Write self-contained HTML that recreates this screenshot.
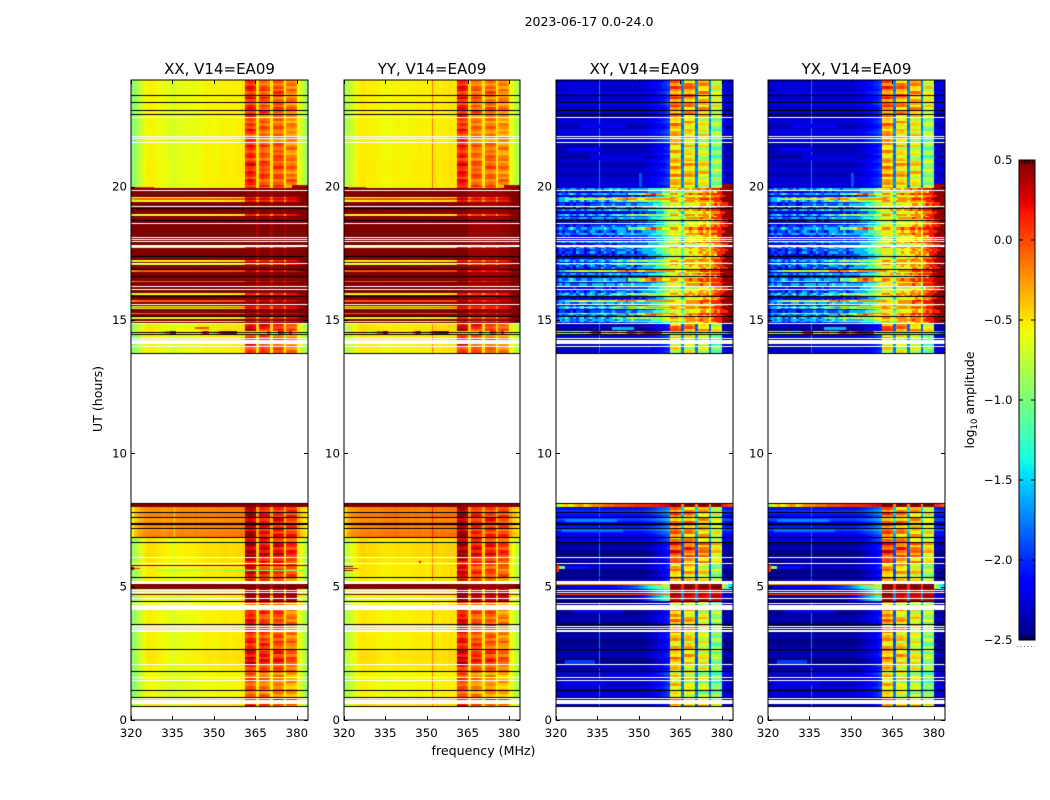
<!DOCTYPE html>
<html lang="en">
<head>
<meta charset="utf-8">
<title>2023-06-17 0.0-24.0</title>
<style>
html,body{margin:0;padding:0;background:#fff;}
#stage{position:relative;width:1050px;height:800px;overflow:hidden;background:#fff;font-family:"DejaVu Sans","Liberation Sans",sans-serif;}
canvas{position:absolute;display:block;}
svg{position:absolute;left:0;top:0;}
text{fill:#000;font-family:"DejaVu Sans","Liberation Sans",sans-serif;}
</style>
</head>
<body>
<div id="stage">
<canvas id="hm0" width="177" height="640" style="left:131px;top:80px"></canvas>
<canvas id="hm1" width="176" height="640" style="left:344px;top:80px"></canvas>
<canvas id="hm2" width="177" height="640" style="left:556px;top:80px"></canvas>
<canvas id="hm3" width="177" height="640" style="left:768px;top:80px"></canvas>
<canvas id="cb" width="16" height="480" style="left:1019px;top:160px"></canvas>
<svg id="ov" width="1050" height="800" viewBox="0 0 1050 800">
<text x="589" y="26" text-anchor="middle" font-size="12.5">2023-06-17 0.0-24.0</text>
<text x="483.5" y="755" text-anchor="middle" font-size="12.6">frequency (MHz)</text>
<text transform="translate(102,399) rotate(-90)" text-anchor="middle" font-size="12.6">UT (hours)</text>
<text transform="translate(974,400) rotate(-90)" text-anchor="middle" font-size="12.5">log<tspan font-size="8.5" dy="3">10</tspan><tspan dy="-3"> amplitude</tspan></text>
</svg>
</div>
<script>
const panelNames=['XX, V14=EA09','YY, V14=EA09','XY, V14=EA09','YX, V14=EA09'];
const xTicks=[320,335,350,365,380];
const yTicks=[0,5,10,15,20];
const cbTicks=[0.5,0,-0.5,-1,-1.5,-2,-2.5];
const cbTickLabels=['0.5','0.0','\u22120.5','\u22121.0','\u22121.5','\u22122.0','\u22122.5'];

/* log10 amplitude per 1 MHz channel (320..383 MHz) */
const coNormal=[-.98,-.88,-.78,-.7,-.62,-.56,-.54,-.55,-.56,-.57,
-.58,-.6,-.61,-.62,-.63,-.63,-.63,-.62,-.61,-.6,
-.6,-.61,-.6,-.59,-.58,-.57,-.56,-.55,-.55,-.56,
-.56,-.55,-.54,-.53,-.54,-.55,-.54,-.53,-.52,-.53,
-.52,.02,.06,.06,-.01,-.5,-.08,-.05,-.07,-.13,
-.52,-.11,-.08,-.08,-.15,-.52,-.24,-.22,-.22,-.28,
-.6,-.68,-.8,-.95];
const yyDelta=[.14,.1,.08,.06,.03,.03,.03,.03,.03,.04,
.05,.06,.06,.06,.06,.06,.06,.06,.06,.06,
.05,.05,.04,.04,.03,.03,.03,.03,.02,.02,
.02,.02,.02,.02,.02,.02,.02,.02,.02,.02,
.02,.04,.03,.02,.02,.02,-.06,-.06,-.06,-.06,
.02,-.08,-.08,-.06,-.06,.02,-.04,-.04,-.04,-.04,
.02,.02,.03,.06];
const coWarm=[-.6,-.42,-.34,-.3,-.26,-.24,-.22,-.22,-.22,-.22,
-.24,-.26,-.26,-.24,-.22,-.24,-.22,-.22,-.2,-.22,
-.22,-.22,-.22,-.2,-.22,-.2,-.2,-.2,-.22,-.2,
-.2,-.2,-.2,-.18,-.2,-.18,-.18,-.18,-.18,-.18,
-.17,.3,.34,.34,.27,-.3,.14,.16,.14,.1,
-.32,.07,.1,.1,.04,-.34,0,.02,.02,-.03,
-.32,-.42,-.48,-.58];
const coHot=[.5,.5,.5,.5,.5,.5,.5,.5,.5,.5,
.5,.5,.5,.5,.5,.5,.5,.5,.5,.5,
.5,.5,.5,.5,.5,.5,.5,.5,.5,.5,
.5,.5,.5,.5,.5,.5,.5,.5,.5,.5,
.5,.49,.49,.49,.49,.4,.49,.49,.49,.49,
.4,.49,.49,.49,.49,.4,.49,.49,.49,.49,
.5,.5,.5,.5];
const coYellow=[-.8,-.7,-.65,-.62,-.6,-.6,-.6,-.6,-.6,-.6,
-.6,-.6,-.6,-.6,-.6,-.6,-.6,-.6,-.6,-.6,
-.6,-.6,-.6,-.6,-.6,-.6,-.6,-.6,-.6,-.57,
-.57,-.55,-.55,-.55,-.53,-.53,-.51,-.51,-.49,-.47,
-.45,.12,.15,.15,.1,-.3,.1,.12,.12,.1,
-.3,.12,.15,.15,.12,-.3,.18,.2,.2,.2,
.35,.45,.5,.5];
const coOrange=[-.25,-.15,-.1,-.08,-.06,-.05,-.05,-.05,-.05,-.05,
-.05,-.05,-.05,-.05,-.05,-.05,-.05,-.05,-.05,-.05,
-.05,-.04,-.04,-.04,-.04,-.03,-.03,-.03,-.03,-.02,
-.02,-.02,-.02,-.02,-.02,0,0,0,0,0,
.02,.3,.32,.32,.3,.02,.25,.28,.28,.25,
.02,.25,.28,.28,.25,.05,.28,.3,.3,.3,
.4,.48,.5,.5];
const coMix=[-.75,-.6,-.55,-.55,-.53,-.53,-.5,-.45,-.55,-.55,
-.55,-.45,-.1,-.15,.4,.4,-.55,-.55,-.55,-.55,
-.55,-.55,-.55,-.55,-.55,-.1,.35,.2,-.45,-.45,
-.35,-.1,.3,.35,.4,.4,.4,.35,-.55,-.55,
-.55,-.55,-.55,-.55,-.55,-.55,-.45,-.55,-.55,.1,
-.55,-.55,-.55,.2,.1,-.45,-.35,.2,-.45,-.55,
-.55,-.65,-.75,-.85];
const coPulse=[.5,.5,.5,.5,.5,.5,.5,.5,.5,.5,
.5,.5,.5,.5,.5,.5,.5,.5,.5,.5,
.5,.5,.5,.5,.5,.5,.5,.5,.5,.5,
.5,.5,.5,.5,.5,.5,.5,.5,.5,.5,
.5,.5,.5,.5,.5,.4,.5,.5,.5,.5,
.4,.5,.5,.5,.5,.4,.5,.5,.5,.5,
.48,.48,.48,.48];
const coQuiet=[-.9,-.8,-.72,-.66,-.62,-.6,-.58,-.6,-.6,-.6,
-.62,-.62,-.64,-.64,-.64,-.65,-.65,-.65,-.65,-.65,
-.62,-.62,-.6,-.6,-.6,-.58,-.58,-.58,-.58,-.58,
-.56,-.56,-.56,-.55,-.55,-.55,-.54,-.54,-.54,-.52,
-.5,.42,.45,.45,.42,-.4,.38,.4,.4,.36,
-.42,.36,.4,.4,.36,-.42,.38,.4,.4,.36,
-.55,-.62,-.72,-.85];

const xyNormal=[-2.46,-2.46,-2.46,-2.46,-2.46,-2.46,-2.46,-2.46,-2.46,-2.46,
-2.46,-2.46,-2.46,-2.46,-2.46,-2.46,-2.46,-2.46,-2.46,-2.46,
-2.46,-2.46,-2.46,-2.46,-2.46,-2.46,-2.46,-2.46,-2.46,-2.46,
-2.46,-2.45,-2.42,-2.4,-2.36,-2.34,-2.3,-2.26,-2.22,-2.18,
-2.1,-.5,-.45,-.45,-.55,-1.9,-.6,-.55,-.55,-.65,
-1.9,-.75,-.7,-.7,-.75,-1.9,-1.05,-1,-1,-1.1,
-2.4,-2.45,-2.45,-2.45];
const yxDelta=[0,0,0,0,0,0,0,0,0,0,
0,0,0,0,0,0,0,0,0,0,
0,0,0,0,0,0,0,0,0,0,
0,0,0,0,0,0,0,0,0,0,
0,.05,.05,.05,.05,0,0,0,0,0,
0,.02,.02,.02,.02,0,.05,.05,.05,.05,
0,0,0,0];
const xPulse=[-2.35,-2.35,-2.3,-2.3,-2.3,-2.3,-2.25,-2.25,-2.25,-2.25,
-2.2,-2.2,-2.2,-2.2,-2.2,-2.2,-2.2,-2.2,-2.15,-2.15,
-2.1,-2.1,-2.05,-2.05,-2,-2,-1.95,-1.9,-1.85,-1.8,
-1.7,-1.6,-1.5,-1.4,-1.3,-1.2,-1.1,-1,-.9,-.85,
-.8,.45,.5,.5,.45,.1,.45,.5,.5,.45,
.1,.45,.5,.5,.45,.1,.45,.5,.5,.45,
-.8,-1,-1.4,-1.6];
const xQuiet=[-2.45,-2.45,-2.45,-2.45,-2.45,-2.45,-2.45,-2.45,-2.45,-2.45,
-2.45,-2.45,-2.45,-2.45,-2.45,-2.45,-2.45,-2.45,-2.45,-2.45,
-2.45,-2.45,-2.45,-2.45,-2.45,-2.45,-2.4,-2.4,-2.35,-2.3,
-2.2,-2.1,-2,-1.9,-1.8,-1.7,-1.6,-1.5,-1.4,-1.3,
-1.2,.35,.38,.38,.3,-1.7,.3,.35,.35,.25,
-1.7,.28,.32,.32,.25,-1.7,.25,.3,.3,.2,
-2.2,-2.3,-2.3,-2.3];
const xMix=[-.6,-.7,-.8,-.9,-1,-.9,-.7,-.5,-1,-1.1,
-.9,-.4,0,.2,.3,.3,-.5,-.8,-.6,-.4,
-.4,-.3,-.6,-.5,-.4,-.1,.2,.3,.0,-.3,
-.1,.1,.3,.35,.35,.3,.3,.2,-.7,-.9,
-.8,-1,-1.2,-.9,-1.1,-1.4,-.9,-1,-1.2,-1.1,
-1.4,-.9,-1,-.8,-1.1,-1.4,-.9,-1,-.9,-1.2,
-1.4,-1.5,-1.7,-1.8];
const xTop=[-.9,-.7,-.5,-.4,-.5,-.6,-.4,-.3,-.2,-.3,
-.5,-.4,-.3,-.2,-.2,-.2,-.2,-.1,-.1,-.1,
-.1,0,0,0,0,0,.05,.05,.1,.1,
.1,.1,.12,.12,.15,.15,.15,.2,.2,.25,
.25,.48,.5,.5,.45,-.2,.45,.5,.5,.45,
-.2,.45,.5,.5,.45,-.2,.45,.5,.5,.45,
.1,.1,0,-.1];

/* representative rows of the noisy 14.9-20 h section, levels 0-9 */
const noise0=[1,2,1,2,2,2,1,3,2,2, 1,2,3,3,2,1,2,3,2,2, 1,2,3,3,3,2,2,3,1,2, 2,3,3,3,3,3,4,4,4,5, 5,6,6,5,6,4,6,6,7,6, 6,7,7,6,7,6,7,7,8,8, 8,9,9,9];
const noise1=[0,1,1,1,1,1,0,1,1,1, 1,1,1,0,1,1,1,1,1,1, 1,1,1,1,1,1,1,2,1,1, 2,1,2,2,2,2,3,3,3,4, 5,5,5,6,5,3,5,6,6,6, 5,6,6,7,6,5,7,7,7,8, 8,9,9,9];
const noise2=[2,3,2,3,3,2,2,2,3,3, 3,2,2,3,3,3,3,2,3,3, 3,2,3,4,3,3,3,4,3,3, 3,3,3,3,4,4,4,4,5,5, 6,6,6,6,6,5,6,7,7,7, 7,7,8,7,7,6,8,8,8,8, 9,9,9,9];
const noise3=[1,1,2,1,2,1,1,1,1,1, 1,1,1,1,1,2,1,1,1,2, 1,2,2,1,2,2,2,2,2,2, 2,2,2,3,3,3,3,3,4,4, 4,5,6,5,5,4,5,5,6,5, 6,6,6,7,7,6,7,6,8,8, 9,9,9,9];
const noise4=[2,3,2,2,3,4,3,2,2,3, 3,2,2,3,3,3,3,4,3,2, 3,3,3,3,3,2,5,4,4,5, 5,6,7,7,8,8,7,7,6,6, 6,7,7,7,6,5,7,7,8,7, 7,8,8,7,8,7,8,8,8,8, 9,9,9,9];
const noise5=[1,1,1,1,1,1,2,1,1,1, 1,1,1,1,2,2,2,1,1,2, 1,1,2,2,2,2,2,2,2,2, 2,2,2,3,3,3,3,4,4,5, 5,5,6,5,5,3,5,6,5,5, 5,6,6,6,6,4,6,7,7,7, 8,8,9,9];
const noise6=[2,2,3,2,2,3,3,2,2,3, 2,3,3,3,2,3,2,3,3,4, 3,3,4,3,3,3,2,3,3,3, 3,3,3,4,4,4,4,4,5,5, 6,6,5,6,7,5,7,7,6,7, 7,8,7,7,8,7,8,8,8,9, 9,9,9,9];
const noise7=[1,2,2,1,1,2,1,2,2,2, 1,1,2,2,2,2,3,2,2,2, 3,2,2,2,2,3,3,2,2,3, 3,3,3,3,3,4,4,4,5,5, 5,6,5,6,6,4,6,5,6,6, 6,6,7,7,6,5,7,8,7,8, 8,8,9,9];
const noise8=[2,3,3,4,3,2,3,2,3,4, 2,3,4,3,2,3,4,3,2,3, 4,4,5,4,3,4,5,6,5,4, 5,5,6,5,5,5,5,5,6,6, 6,7,7,7,6,5,7,7,7,7, 6,7,7,7,7,6,7,8,8,8, 9,9,9,9];
const noise9=[2,3,3,4,4,5,5,5,6,6, 6,5,5,5,5,6,6,6,5,5, 6,6,7,7,7,8,7,7,7,6, 6,6,7,7,7,7,7,7,7,7, 7,7,7,6,6,5,6,7,7,7, 7,7,8,8,8,7,8,8,8,9, 9,9,9,9];
const noiseRows=[noise0,noise1,noise2,noise3,noise4,noise5,noise6,noise7];
const noiseOrder=[0,3,1,2,5,0,7,1,6,3,4,1,2,5,7,0,6,1,3,2,5,1,7,4,0,2,3,1,6,5,0,7];

/* row-to-row gain on the active 361-380 MHz columns and the background */
const coStreak=[.06,-.05,.16,.1,-.1,.02,.2,-.04,-.12,.08,.14,-.08,.03,.18,.05,-.11,.1,-.03,.22,.06,-.14,.01,.12,-.06,.17,.04,-.09,.07,.13,-.12,.02,.19,-.02,-.07,.11,.05,-.13,.15,.08,-.04];
const crossStreak=[.18,-.15,.3,-.05,-.25,.1,.28,-.2,.05,.22,-.12,-.28,.15,.25,-.08,-.18,.32,.02,-.22,.12,.2,-.3,.08,.26,-.1,-.16,.3,-.02,-.24,.14,.06,-.2,.24,-.06,-.14,.28,-.26,.1,.16,-.12];
const bgStreak=[.02,.08,.04,-.03,.1,.02,-.03,.05,.11,.02,-.04,.03,.08,-.02,.07,.12,.03,-.03,.04,.1,-.02,.05,.14,.03,-.04,.07,.02,.1,-.03,.05,.08,-.03,.03,.12,.02,-.02,.08,.04,.1,-.03];

/* [top hour, bottom hour, state, co gain, cross active gain, cross background gain] */
const timeBands=[
[24,22.7,'n',.02,.32,.12],[22.7,22.2,'n',-.05,.1,.1],[22.2,21.6,'n',-.04,.08,.15],
[21.6,21,'n',0,0,.06],[21,20.4,'n',.05,.12,.1],[20.4,19.95,'n',.02,.05,.12],
[19.95,19.6,'h'],[19.6,19.54,'y'],[19.54,19.48,'o'],[19.48,19.42,'y'],[19.42,18.95,'h'],[18.95,18.88,'y'],[18.88,17.72,'h'],
[17.72,17.67,'y'],[17.67,17.23,'h'],[17.23,17.17,'y'],[17.17,17.1,'h'],[17.1,17.05,'y'],[17.05,16.88,'h'],
[16.88,16.78,'o'],[16.78,16.46,'h'],[16.46,16.4,'o'],[16.4,15.98,'h'],[15.98,15.93,'y'],
[15.93,15.75,'h'],[15.75,15.65,'o'],[15.65,15.52,'h'],[15.52,15.47,'y'],[15.47,15.44,'o'],
[15.44,15.4,'y'],[15.4,15.25,'h'],[15.25,15.19,'o'],[15.19,15.08,'h'],[15.08,15.03,'y'],
[15.03,14.95,'h'],[14.95,14.9,'y'],[14.9,14.85,'h'],
[14.85,14.57,'n',.2,.3,0],[14.57,14.46,'m'],[14.46,13.76,'n',.02,-.12,.12],
[8.11,7.98,'t'],[7.98,6.85,'w',0,.28,.32],[6.85,6.66,'n',.18,.22,.15],
[6.66,6.1,'n',.3,.48,-.02],[6.1,5.87,'n',.22,.3,-.02],[5.87,5.35,'n',.12,.12,-.02],
[5.35,5.11,'n',.1,.08,-.02],[5.11,4.91,'p'],[4.91,4.44,'q'],[4.44,4.13,'n',0,.02,-.02],
[4.13,3.57,'n',.05,.12,.02],[3.57,3.3,'n',.1,.08,0],[3.3,2.65,'n',.05,.05,-.02],
[2.65,2.1,'n',.18,.12,-.02],[2.1,1.82,'n',.05,-.03,.06],[1.82,1.11,'n',-.1,-.1,.1],
[1.11,.84,'n',-.1,-.12,.1],[.84,.51,'n',.15,.25,-.02]
];
const blackLineHours=[23.43,23.16,22.86,22.71,19.2,18.72,17.4,16.9,16.64,15.88,15.12,14.54,14.46,13.76,
8.11,7.79,7.6,7.36,7.33,7.19,6.85,6.66,5.35,4.44,3.57,2.65,1.82,1.11,.84,.51];
const whiteLineHours=[22.6,21.87,21.79,21.67,19.86,19.24,18.6,18.1,18.03,17.93,17.78,17.75,17.12,16.25,16.15,15.59,14.88,
14.29,14.25,14.21,14.17,14.11,14.02,6.1,5.87,5.21,5.17,5.13,4.87,4.8,4.55,4.38,4.3,4.26,4.22,4.18,4.14,
3.52,3.44,3.37,3.33,2.09,1.61,1.5,.79,.75,.71,.67,.63];
/* localized features: [top hour, bottom hour, first channel, end channel, log amplitude] */
const spotsXX=[[5.83,5.77,0,64,.48],[5.74,5.62,0,1,.5],[5.7,5.66,1,3,.1],[5.62,5.58,8,64,-.95],[4.86,4.82,0,64,.2],[4.73,4.69,0,64,.45],[20.05,19.95,58,64,.4],[20,19.95,0,8,.1],[14.75,14.68,23,28,0]];
const spotsYY=[[5.78,5.74,0,3,.5],[5.7,5.66,0,5,.2],[5.62,5.58,0,3,.4],[4.86,4.82,0,64,.2],[4.73,4.69,0,64,.45],[20.05,19.95,58,64,.4],[20,19.95,0,8,.1],[5.95,5.9,27,28,.2]];
const spotsCross=[[5.8,5.55,0,1,.1],[5.76,5.66,1,3,-1],[5.76,5.66,3,12,-2.1],[5.11,5.06,0,38,-.2],[4.86,4.82,0,41,.05],[4.73,4.69,0,41,-.05],
[20.1,19.95,60,64,.42],[20.5,20,30,31,-1.9],[14.05,13.82,16,34,-2.1],[14.72,14.64,20,28,-1.6],[23.8,23.55,3,14,-2.25],[22.35,22.2,8,25,-2.2],[21.5,21.3,4,16,-2.2],
[21.2,21,12,32,-2.25],[7.2,7.05,2,24,-1.8],[7.55,7.42,3,22,-1.75],[2.25,2.05,3,14,-1.95],[2.1,1.95,14,30,-2.25],[1.55,1.3,2,18,-2.2],[4.2,4,6,24,-2.2]];
/* narrow single-channel interference: [frequency MHz, log amplitude] */
const rfiXX=[335.8,-.72];
const rfiYY=[352.2,-.15];
const rfiXY=[335.8,-1.75];
const rfiYX=[335.8,-1.75];

const NS='http://www.w3.org/2000/svg';
const ov=document.getElementById('ov');
const panelLefts=[131,344,556,768];
const panelWidths=[177,176,177,177];
const AX_TOP=80,AX_H=640;
function yScale(h){return AX_TOP+(24-h)*AX_H/24;}
function rowOf(h){return Math.floor((24-h)*AX_H/24);}
function xScale(f,i){return panelLefts[i]+(f-320)*panelWidths[i]/64;}
function cbScale(v){return 160+(0.5-v)*160;}
function interp(pts,t){
  for(let i=1;i<pts.length;i++){
    if(t<=pts[i][0]){const a=pts[i-1],b=pts[i];return a[1]+(b[1]-a[1])*(t-a[0])/(b[0]-a[0]);}
  }
  return pts[pts.length-1][1];
}
const jetR=[[0,0],[.35,0],[.66,1],[.89,1],[1,.5]];
const jetG=[[0,0],[.125,0],[.375,1],[.64,1],[.91,0],[1,0]];
const jetB=[[0,.5],[.11,1],[.34,1],[.65,0],[1,0]];
function jet(v){
  const t=Math.max(0,Math.min(1,(v+2.5)/3));
  return [interp(jetR,t)*255,interp(jetG,t)*255,interp(jetB,t)*255];
}
function pick(a,i){const x=a[i];return x===undefined?a[a.length-1]:x;}
function isActive(ch){return ch>=41&&ch<=59&&ch!==45&&ch!==50&&ch!==55;}
function colGroup(ch){return Math.floor((ch-41)/5);}

/* which band applies to each pixel row */
const rowBand=new Array(AX_H).fill(null);
timeBands.forEach(function(b){
  for(let r=rowOf(b[0]);r<rowOf(b[1]);r++) if(r>=0&&r<AX_H) rowBand[r]=b;
});
const rowFlag=new Array(AX_H).fill('');
whiteLineHours.forEach(function(h){rowFlag[rowOf(h)]='w';});
blackLineHours.forEach(function(h){rowFlag[rowOf(h)]='k';});

function coValue(state,band,ch,sr,delta){
  let base;
  const st=isActive(ch)?coStreak[(sr+colGroup(ch)*7)%coStreak.length]:0;
  if(state==='n') base=pick(coNormal,ch)+(isActive(ch)?band[3]+st:band[3]*.25);
  else if(state==='w') base=pick(coWarm,ch)+(isActive(ch)?st:coStreak[sr%coStreak.length]*.3);
  else if(state==='h'||state==='t') base=pick(coHot,ch);
  else if(state==='y') base=pick(coYellow,ch);
  else if(state==='o') base=pick(coOrange,ch);
  else if(state==='m') base=pick(coMix,ch);
  else if(state==='p') base=pick(coPulse,ch);
  else base=pick(coQuiet,ch);
  return base+pick(delta,ch);
}
function crossValue(state,band,ch,sr,delta){
  let base;
  const st=isActive(ch)?crossStreak[(sr+colGroup(ch)*11)%crossStreak.length]:0;
  if(state==='n'||state==='w'){
    base=pick(xyNormal,ch);
    if(isActive(ch)) base+=band[4]+st;
    else base+=band[5]+bgStreak[sr%bgStreak.length]*(state==='w'?2:1);
  }else if(state==='h'){
    const row=noiseRows[noiseOrder[sr%noiseOrder.length]];
    base=-2.6+pick(row,ch)*.34;
  }else if(state==='y'){
    base=-2.6+pick(noise8,ch)*.34;
  }else if(state==='o'){
    base=-2.6+pick(noise9,ch)*.34;
  }else if(state==='m') base=pick(xMix,ch);
  else if(state==='p') base=pick(xPulse,ch);
  else if(state==='t') base=pick(xTop,ch);
  else base=pick(xQuiet,ch)+st*.3;
  return base+pick(delta,ch);
}
const zeroDelta=[0];
const panelSpec=[
 {cross:false,delta:zeroDelta,spots:spotsXX,rfi:rfiXX},
 {cross:false,delta:yyDelta,spots:spotsYY,rfi:rfiYY},
 {cross:true,delta:zeroDelta,spots:spotsCross,rfi:rfiXY},
 {cross:true,delta:yxDelta,spots:spotsCross,rfi:rfiYX}
];
panelSpec.forEach(function(spec,i){
  const c=document.getElementById('hm'+i);
  const ctx=c.getContext('2d');
  const W=c.width;
  const img=ctx.createImageData(W,AX_H);
  const rfiPx=Math.floor((spec.rfi[0]-320)*W/64);
  for(let r=0;r<AX_H;r++){
    const hour=24-(r+.5)*24/AX_H;
    const sr=Math.floor(r/2.667);
    const band=rowBand[r];
    for(let x=0;x<W;x++){
      const ch=Math.min(63,Math.floor(x*64/W));
      let rgb=[255,255,255];
      if(rowFlag[r]==='k') rgb=[0,0,0];
      else if(rowFlag[r]!=='w'&&band){
        const st=band[2];
        let v=spec.cross?crossValue(st,band,ch,sr,spec.delta):coValue(st,band,ch,sr,spec.delta);
        if((st==='n'||st==='w')&&x===rfiPx) v=spec.rfi[1]+(st==='w'&&!spec.cross?.3:0);
        for(let s=0;s<spec.spots.length;s++){
          const p=spec.spots[s];
          if(hour<=p[0]&&hour>p[1]&&ch>=p[2]&&ch<p[3]&&(!spec.cross||!isActive(ch)||p[3]-p[2]<6)) v=p[4];
        }
        rgb=jet(v);
      }
      const k=(r*W+x)*4;
      img.data[k]=rgb[0];img.data[k+1]=rgb[1];img.data[k+2]=rgb[2];img.data[k+3]=255;
    }
  }
  ctx.putImageData(img,0,0);
});

/* colorbar gradient */
(function(){
  const c=document.getElementById('cb');
  const ctx=c.getContext('2d');
  for(let r=0;r<480;r++){
    const rgb=jet(0.5-(r+.5)/160);
    ctx.fillStyle='rgb('+Math.round(rgb[0])+','+Math.round(rgb[1])+','+Math.round(rgb[2])+')';
    ctx.fillRect(0,r,16,1);
  }
})();

function mk(tag,attrs,txt){
  const el=document.createElementNS(NS,tag);
  for(const k in attrs) el.setAttribute(k,attrs[k]);
  if(txt!==undefined) el.textContent=txt;
  ov.appendChild(el);
  return el;
}
panelNames.forEach(function(name,i){
  const L=panelLefts[i],W=panelWidths[i],R=L+W,B=AX_TOP+AX_H;
  const title=mk('text',{x:L+W/2,y:74,'text-anchor':'middle','font-size':15},name);
  
  
  const frame=mk('rect',{x:L,y:AX_TOP,width:W,height:AX_H,fill:'none',stroke:'#000','stroke-width':1});
  
  
  xTicks.forEach(function(f){
    const x=Math.round(xScale(f,i))+.5;
    const t1=mk('line',{x1:x,x2:x,y1:B,y2:B-4,stroke:'#000','stroke-width':1});
    
    
    const t2=mk('line',{x1:x,x2:x,y1:AX_TOP,y2:AX_TOP+4,stroke:'#000','stroke-width':1});
    
    
    const lb=mk('text',{x:xScale(f,i),y:737,'text-anchor':'middle','font-size':11.8},String(f));
    
    
  });
  yTicks.forEach(function(h){
    const y=Math.round(yScale(h))+.5;
    const t1=mk('line',{x1:L,x2:L+4,y1:y,y2:y,stroke:'#000','stroke-width':1});
    
    
    const t2=mk('line',{x1:R,x2:R-4,y1:y,y2:y,stroke:'#000','stroke-width':1});
    
    
    const lb=mk('text',{x:L-4,y:yScale(h)+4,'text-anchor':'end','font-size':11.8},String(h));
    
    
  });
});
/* colorbar frame and ticks */
const cbFrame=mk('rect',{x:1019,y:160,width:16,height:480,fill:'none',stroke:'#000','stroke-width':1});


cbTicks.forEach(function(v,i){
  const y=Math.round(cbScale(v));
  const a=mk('line',{x1:1019,x2:1023,y1:y,y2:y,stroke:'#000','stroke-width':1});
  
  
  const b=mk('line',{x1:1035,x2:1031,y1:y,y2:y,stroke:'#000','stroke-width':1});
  
  
  const lb=mk('text',{x:1012.5,y:cbScale(v)+4,'text-anchor':'end','font-size':11.8},cbTickLabels[i]);
  
  
});
for(let i=1;i<=5;i++){
  const x=1019+i*2.67;
  const a=mk('line',{x1:x,x2:x,y1:160,y2:164,stroke:'#000','stroke-width':1});
  
  
  const b=mk('line',{x1:x,x2:x,y1:640,y2:636,stroke:'#000','stroke-width':1});
  
  
}
const dots=mk('line',{x1:1017,x2:1035,y1:646.5,y2:646.5,stroke:'#777','stroke-width':1,'stroke-dasharray':'1 2.5'});


</script>
</body>
</html>
